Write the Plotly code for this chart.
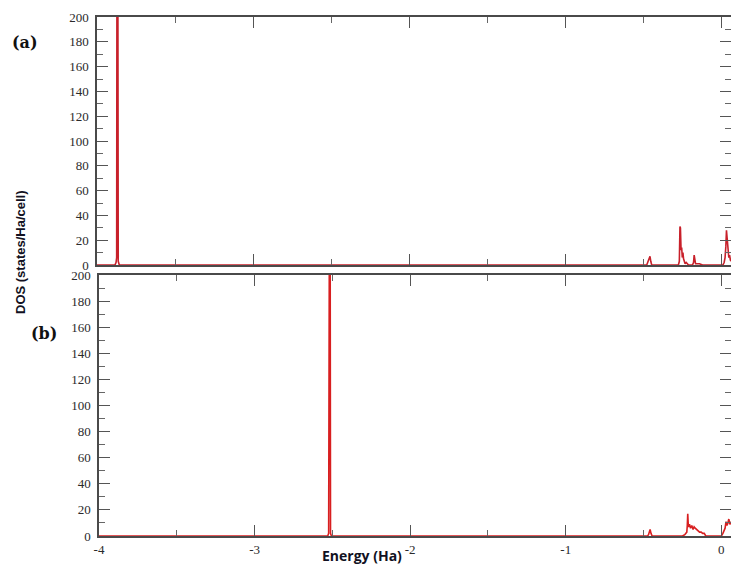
import plotly.graph_objects as go

# Panel (a) DOS
energy_a = [-4.0, -3.885, -3.878, -3.874, -3.871, -3.868, -3.864, -3.857,
            -0.500, -0.478, -0.472, -0.466, -0.461, -0.457, -0.452, -0.446,
            -0.300, -0.275, -0.269, -0.265, -0.262, -0.258, -0.254, -0.250,
            -0.246, -0.242, -0.238, -0.232, -0.225, -0.210, -0.185, -0.178,
            -0.174, -0.170, -0.165, -0.155, -0.140, -0.120, -0.100, -0.020,
            0.000, 0.010, 0.018, 0.024, 0.029, 0.033, 0.037, 0.042, 0.048,
            0.053, 0.058, 0.065]
dos_a = [0, 0, 2, 6, 400, 400, 3, 0,
         0, 0, 2, 4, 6, 7, 3, 0,
         0, 0, 3, 31, 30, 12, 14, 6,
         10, 5, 3, 1, 2, 0, 0, 2,
         8, 3, 1, 1, 1, 0, 0, 0,
         0, 0, 2, 6, 15, 28, 22, 10, 6,
         8, 4, 3]

# Panel (b) DOS
energy_b = [-4.0, -2.530, -2.524, -2.520, -2.516, -2.512, -2.506,
            -0.500, -0.475, -0.468, -0.463, -0.458, -0.452, -0.445,
            -0.300, -0.250, -0.235, -0.228, -0.222, -0.219, -0.216, -0.212,
            -0.205, -0.198, -0.190, -0.182, -0.175, -0.168, -0.160, -0.150,
            -0.140, -0.130, -0.120, -0.110, -0.100, -0.060,
            -0.020, 0.000, 0.010, 0.018, 0.024, 0.030, 0.036, 0.042,
            0.048, 0.055, 0.065]
dos_b = [0, 0, 2, 400, 400, 2, 0,
         0, 0, 1, 3, 5, 2, 0,
         0, 0, 1, 2, 3, 8, 17, 7,
         9, 6, 8, 5, 7, 6, 5, 4,
         3, 3, 2, 2, 0, 0,
         0, 0, 2, 4, 6, 11, 8, 10,
         13, 9, 11]

x_tick_vals = [-4, -3, -2, -1, 0]
x_tick_text = ["-4", "-3", "-2", "-1", "0"]
y_tick_vals = [0, 20, 40, 60, 80, 100, 120, 140, 160, 180, 200]
y_tick_text = ["0", "20", "40", "60", "80", "100", "120", "140", "160", "180", "200"]

W, H = 731, 565
line_col = "#d81f20"

fig = go.Figure()
fig.add_trace(go.Scatter(x=energy_a, y=dos_a, mode="lines",
                         line=dict(color="#c8202a", width=1.6),
                         xaxis="x", yaxis="y", showlegend=False, hoverinfo="skip"))
fig.add_trace(go.Scatter(x=energy_b, y=dos_b, mode="lines",
                         line=dict(color=line_col, width=1.6),
                         xaxis="x2", yaxis="y2", showlegend=False, hoverinfo="skip"))

tickfont = dict(family="Liberation Serif, Times New Roman, serif", size=13, color="#2a2a2a")


def ax(minor_dtick, **kw):
    d = dict(showline=True, linecolor="#4a4a4a", linewidth=1.5, mirror="ticks",
             ticks="inside", tickcolor="#555555", tickwidth=1.2, ticklen=11,
             showgrid=False, zeroline=False, tickfont=tickfont, automargin=False,
             layer="above traces",
             minor=dict(ticks="inside", ticklen=6, dtick=minor_dtick, tick0=0,
                        tickcolor="#666666", tickwidth=1.1))
    d.update(kw)
    return d


xr = [-4, 0.062]
fig.update_layout(
    width=W, height=H,
    margin=dict(l=0, r=0, t=0, b=0, autoexpand=False),
    paper_bgcolor="white", plot_bgcolor="white",
    xaxis=ax(0.5, domain=[97 / W, 1], range=xr, anchor="y", tickvals=x_tick_vals,
             ticktext=["", "", "", "", ""]),
    yaxis=ax(10, domain=[(H - 265) / H, (H - 17) / H], range=[0, 200], anchor="x",
             tickvals=y_tick_vals, ticktext=y_tick_text, ticklabelstandoff=4),
    xaxis2=ax(0.5, domain=[99 / W, 1], range=xr, anchor="y2", tickvals=x_tick_vals,
              ticktext=x_tick_text, ticklabelstandoff=1, ticklabeloverflow="allow"),
    yaxis2=ax(10, domain=[(H - 536) / H, (H - 275) / H], range=[0, 200], anchor="x2",
              tickvals=y_tick_vals, ticktext=y_tick_text, ticklabelstandoff=4),
    annotations=[
        dict(text="<b>(a)</b>", x=25 / W, y=(H - 42) / H, xref="paper", yref="paper",
             xanchor="center", yanchor="middle", showarrow=False,
             font=dict(family="DejaVu Serif, serif", size=16, color="#111111")),
        dict(text="<b>(b)</b>", x=44 / W, y=(H - 333) / H, xref="paper", yref="paper",
             xanchor="center", yanchor="middle", showarrow=False,
             font=dict(family="DejaVu Serif, serif", size=16, color="#111111")),
        dict(text="<b>DOS (states/Ha/cell)</b>", x=20 / W, y=(H - 252) / H, xref="paper", yref="paper",
             xanchor="center", yanchor="middle", showarrow=False, textangle=-90,
             font=dict(family="Liberation Sans Narrow, Arial Narrow, sans-serif", size=13, color="#111122")),
        dict(text="<b>Energy (Ha)</b>", x=362 / W, y=(H - 555) / H, xref="paper", yref="paper",
             xanchor="center", yanchor="middle", showarrow=False,
             font=dict(family="Open Sans, DejaVu Sans, sans-serif", size=14, color="#111122")),
    ],
)

fig.write_html("out.html", config={"displayModeBar": False},
               post_script="document.body.style.margin='0';document.body.style.overflow='hidden';")
